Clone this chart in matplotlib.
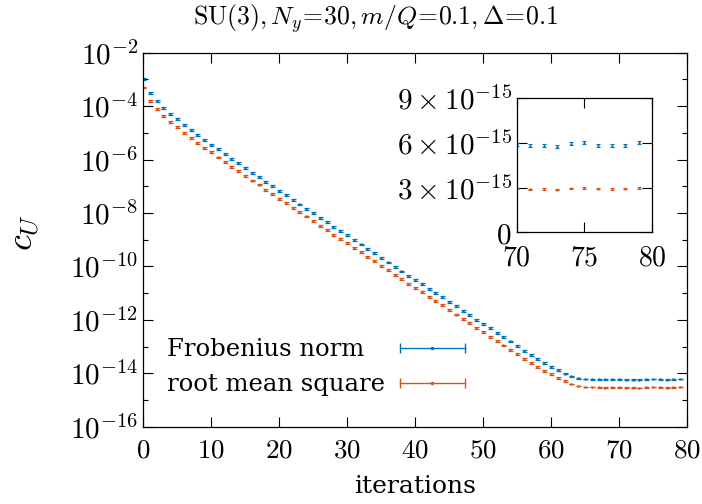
import numpy as np
import matplotlib
matplotlib.use('Agg')
import matplotlib.pyplot as plt
from matplotlib.lines import Line2D
from matplotlib.legend_handler import HandlerBase
from matplotlib.container import ErrorbarContainer
from matplotlib.ticker import LogLocator, FixedLocator, FuncFormatter, NullFormatter

plt.rcParams['mathtext.fontset'] = 'cm'
plt.rcParams['font.family'] = 'DejaVu Serif'

# data
iterations = list(range(80))

frobenius = [
    1.00e-3, 3.02e-4, 1.51e-4, 8.71e-5, 5.25e-5, 3.24e-5, 2.00e-5, 1.26e-5,
    8.32e-6, 5.50e-6, 3.55e-6, 2.40e-6, 1.62e-6, 1.07e-6, 7.24e-7, 4.79e-7,
    3.24e-7, 2.29e-7, 1.48e-7, 1.02e-7, 6.61e-8, 4.57e-8, 3.09e-8, 2.09e-8,
    1.45e-8, 9.77e-9, 6.61e-9, 4.57e-9, 3.02e-9, 2.09e-9, 1.45e-9, 9.77e-10,
    6.61e-10, 4.57e-10, 3.09e-10, 2.04e-10, 1.41e-10, 9.77e-11, 6.46e-11, 4.47e-11,
    3.09e-11, 2.14e-11, 1.45e-11, 1.00e-11, 6.92e-12, 4.57e-12, 3.24e-12, 2.19e-12,
    1.51e-12, 1.02e-12, 7.08e-13, 4.79e-13, 3.24e-13, 2.24e-13, 1.55e-13, 1.07e-13,
    7.08e-14, 5.01e-14, 3.47e-14, 2.45e-14, 1.74e-14, 1.32e-14, 9.77e-15, 7.59e-15,
    6.46e-15, 6.03e-15, 5.89e-15, 5.86e-15, 5.88e-15, 5.85e-15,
    5.91e-15, 5.81e-15, 5.81e-15, 5.75e-15, 5.93e-15, 6.01e-15, 5.86e-15, 5.81e-15,
    5.84e-15, 6.01e-15,
]

rms = [
    5.01e-4, 1.51e-4, 7.59e-5, 4.27e-5, 2.63e-5, 1.66e-5, 1.02e-5, 6.61e-6,
    4.27e-6, 2.75e-6, 1.86e-6, 1.20e-6, 8.13e-7, 5.37e-7, 3.63e-7, 2.40e-7,
    1.64e-7, 1.16e-7, 7.50e-8, 5.20e-8, 3.35e-8, 2.32e-8, 1.57e-8, 1.06e-8,
    7.40e-9, 4.95e-9, 3.36e-9, 2.32e-9, 1.53e-9, 1.06e-9, 7.40e-10, 4.95e-10,
    3.36e-10, 2.32e-10, 1.57e-10, 1.04e-10, 7.20e-11, 4.95e-11, 3.28e-11, 2.27e-11,
    1.57e-11, 1.09e-11, 7.40e-12, 5.10e-12, 3.55e-12, 2.29e-12, 1.58e-12, 1.07e-12,
    7.41e-13, 5.01e-13, 3.47e-13, 2.29e-13, 1.58e-13, 1.10e-13, 7.59e-14, 5.25e-14,
    3.55e-14, 2.51e-14, 1.74e-14, 1.23e-14, 9.12e-15, 6.61e-15, 5.01e-15, 3.89e-15,
    3.39e-15, 3.09e-15, 3.02e-15, 2.93e-15, 2.92e-15, 2.94e-15,
    2.95e-15, 2.89e-15, 2.91e-15, 2.86e-15, 2.95e-15, 2.99e-15, 2.93e-15, 2.91e-15,
    2.93e-15, 2.99e-15,
]

# relative error: larger during the decay, small on the plateau
rel_err = [0.08] * 63 + [0.017] * 17

labels = ['Frobenius norm', 'root mean square']
colors = ['#0072bd', '#d95319']

x_ticks = [0, 10, 20, 30, 40, 50, 60, 70, 80]
inset_x_ticks = [70, 75, 80]
inset_y_ticks = [0, 3e-15, 6e-15, 9e-15]
inset_y_labels = ['$0$', r'$3\times10^{-15}$', r'$6\times10^{-15}$', r'$9\times10^{-15}$']

title = r'$\mathrm{SU}(3), N_y\!=\!30, m/Q\!=\!0.1, \Delta\!=\!0.1$'


class HandlerXErr(HandlerBase):
    # gnuplot-like key sample: horizontal bar with caps and a dot in the middle
    def create_artists(self, legend, orig_handle, xdescent, ydescent,
                       width, height, fontsize, trans):
        c = orig_handle.lines[0].get_color()
        x0, x1 = -xdescent, width - xdescent
        y = height / 2 - ydescent
        bar = Line2D([x0, x1], [y, y], color=c, lw=1.0, transform=trans)
        caps = Line2D([x0, x1], [y, y], ls='none', marker='|', ms=7,
                      mew=1.0, color=c, transform=trans)
        dot = Line2D([(x0 + x1) / 2], [y], ls='none', marker='o', ms=1.5,
                     color=c, transform=trans)
        return [bar, caps, dot]


def style_ticks(axis, xsize, ysize):
    axis.tick_params(which='both', direction='in', top=True, right=True,
                     width=0.8, colors='black')
    axis.tick_params(axis='x', labelsize=xsize, pad=7)
    axis.tick_params(axis='y', labelsize=ysize)
    axis.tick_params(which='major', length=7)
    axis.tick_params(which='minor', length=3.5)


fig = plt.figure(figsize=(7.02, 5.04), dpi=100)
ax = fig.add_axes([0.2037, 0.1534, 0.7749, 0.7421])

containers = []
for vals, col in zip([frobenius, rms], colors):
    err = [v * r for v, r in zip(vals, rel_err)]
    eb = ax.errorbar(iterations, vals, yerr=err, fmt='.', ms=1.5, color=col,
                     elinewidth=0.9, capsize=1.8, capthick=0.9)
    containers.append(eb)

ax.set_yscale('log')
ax.set_xlim(0, 80)
ax.set_ylim(1e-16, 1e-2)
ax.xaxis.set_major_locator(FixedLocator(x_ticks))
ax.yaxis.set_major_locator(LogLocator(base=100.0, numticks=20))
ax.yaxis.set_minor_locator(LogLocator(base=10.0, subs=(1.0,), numticks=30))
ax.yaxis.set_major_formatter(FuncFormatter(lambda v, p: r'$10^{%d}$' % round(np.log10(v))))
ax.yaxis.set_minor_formatter(NullFormatter())
ax.xaxis.set_major_formatter(FuncFormatter(lambda v, p: r'$%d$' % v))
style_ticks(ax, 19.5, 21)
for s in ax.spines.values():
    s.set_linewidth(0.9)

ax.set_xlabel('iterations', fontsize=18)
ax.xaxis.set_label_coords(0.5, -0.13)
ax.set_ylabel(r'$c_U$', fontsize=26)
ax.yaxis.set_label_coords(-0.185, 0.518)
fig.text(0.535, 0.964, title, ha='center', va='center', fontsize=18.5)

blank = Line2D([], [], ls='none')
ax.legend([blank, blank] + containers, labels + ['', ''], ncols=2,
          frameon=False, handlelength=2.67, handletextpad=0.0,
          columnspacing=0.62, labelspacing=0.48, borderpad=0, borderaxespad=0,
          fontsize=17.5, loc='lower left', bbox_to_anchor=(-0.0754, 0.082),
          handler_map={ErrorbarContainer: HandlerXErr()})

# inset: plateau on a linear scale
axi = fig.add_axes([0.736, 0.5391, 0.1932, 0.2659])
for vals, col in zip([frobenius, rms], colors):
    err = [v * r for v, r in zip(vals[70:], rel_err[70:])]
    axi.errorbar(iterations[70:], vals[70:], yerr=err, fmt='.', ms=1.2,
                 color=col, elinewidth=0.8, capsize=1.6, capthick=0.8)
axi.set_xlim(70, 80)
axi.set_ylim(0, 9e-15)
axi.xaxis.set_major_locator(FixedLocator(inset_x_ticks))
axi.yaxis.set_major_locator(FixedLocator(inset_y_ticks))
axi.set_yticklabels(inset_y_labels)
axi.xaxis.set_major_formatter(FuncFormatter(lambda v, p: r'$%d$' % v))
style_ticks(axi, 20, 21)
axi.tick_params(axis='x', pad=9)
for s in axi.spines.values():
    s.set_linewidth(0.9)

fig.savefig('out.png', dpi=100)
